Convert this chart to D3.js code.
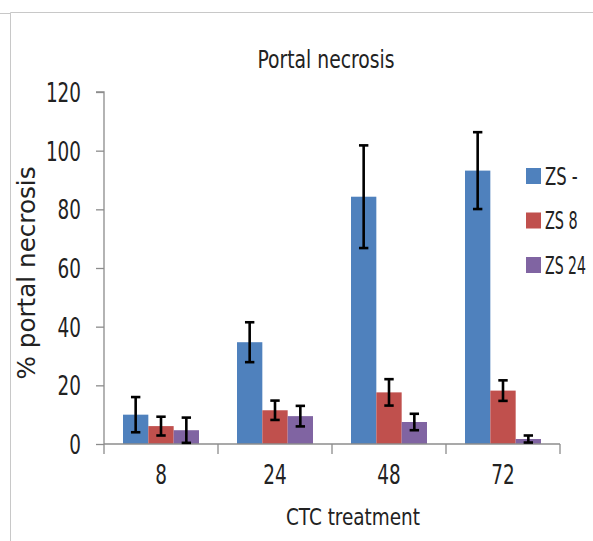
<!DOCTYPE html>
<html>
<head>
<meta charset="utf-8">
<script src="https://cdn.jsdelivr.net/npm/d3@7/dist/d3.min.js"></script>
<style>
  body { margin: 0; background: #fff; }
  text { font-family: "DejaVu Sans Condensed", "Liberation Sans Narrow", sans-serif; fill: #222; }
</style>
</head>
<body>
<script>
/* chart values */
var categories = ["8", "24", "48", "72"]
var series = ["ZS -", "ZS 8", "ZS 24"]
var zsMinus = [10, 34.7, 84.3, 93.2]
var zsMinusErr = [6, 6.8, 17.5, 13.1]
var zs8 = [6.1, 11.5, 17.6, 18.2]
var zs8Err = [3.2, 3.3, 4.5, 3.5]
var zs24 = [4.7, 9.5, 7.5, 1.7]
var zs24Err = [4.3, 3.5, 2.8, 1.2]
var yTicks = [0, 20, 40, 60, 80, 100, 120]
var colors = ["#4F81BD", "#C0504D", "#8064A2"]

var width = 593, height = 541
var margin = { left: 104, right: 33, top: 92, bottom: 97 }

/* squeeze text to the narrow look of the original font */
function narrow(sel, perChar) {
    sel.each(function() {
        var t = d3.select(this)
        var n = t.text().length
        t.attr("textLength", n * perChar).attr("lengthAdjust", "spacingAndGlyphs")
    })
}

var svg = d3.select("body").append("svg")
    .attr("width", width)
    .attr("height", height)

/* outer frame */
svg.append("line").attr("x1", 0).attr("x2", 10).attr("y1", 13.5).attr("y2", 13.5)
    .attr("stroke", "#c8c8c8").attr("stroke-width", 1)
svg.append("path").attr("d", "M593,12.5H10.5V541")
    .attr("fill", "none").attr("stroke", "#c8c8c8").attr("stroke-width", 1)

var x = d3.scaleBand()
    .domain(categories)
    .range([margin.left, width - margin.right])

var inner = d3.scaleBand()
    .domain(series)
    .range([x.bandwidth() / 6, x.bandwidth() * 5 / 6])

var y = d3.scaleLinear()
    .domain([0, 120])
    .range([height - margin.bottom, margin.top])

var values = [zsMinus, zs8, zs24]
var errors = [zsMinusErr, zs8Err, zs24Err]

var rows = []
series.forEach(function(s, si) {
    categories.forEach(function(c, ci) {
        rows.push({ s: s, si: si, c: c, v: values[si][ci], e: errors[si][ci] })
    })
})

/* bars */
svg.selectAll("rect.bar")
    .data(rows)
    .enter()
    .append("rect")
    .attr("class", "bar")
    .attr("x", function(d) { return x(d.c) + inner(d.s) })
    .attr("y", function(d) { return y(d.v) })
    .attr("width", inner.bandwidth())
    .attr("height", function(d) { return y(0) - y(d.v) })
    .attr("fill", function(d) { return colors[d.si] })

/* axes */
var yAxis = d3.axisLeft(y).tickValues(yTicks).tickSize(8).tickPadding(15)
var gy = svg.append("g")
    .attr("transform", "translate(" + margin.left + ",0)")
    .call(yAxis)
gy.selectAll("path, line").attr("stroke", "#8c8c8c").attr("stroke-width", 1.3)
gy.select(".domain").attr("d", "M-8," + y(120) + "H0V" + y(0))
gy.selectAll("text").attr("font-size", "26px").attr("font-family", null).attr("dy", "0.36em")
    .call(narrow, 11.7)

var xAxis = d3.axisBottom(x).tickSize(0).tickPadding(22)
var gx = svg.append("g")
    .attr("transform", "translate(0," + y(0) + ")")
    .call(xAxis)
gx.select(".domain").attr("stroke", "#8c8c8c").attr("stroke-width", 1.3)
    .attr("d", "M" + margin.left + ",0H" + (width - margin.right))
gx.selectAll("text").attr("font-size", "26px").attr("font-family", null)
    .call(narrow, 11.7)

/* category separators on x axis */
var bounds = categories.map(function(c) { return x(c) }).concat([x.range()[1]])
gx.selectAll("line.sep")
    .data(bounds)
    .enter()
    .append("line")
    .attr("class", "sep")
    .attr("x1", function(d) { return d })
    .attr("x2", function(d) { return d })
    .attr("y1", 0)
    .attr("y2", 10)
    .attr("stroke", "#8c8c8c")
    .attr("stroke-width", 1.3)

/* error bars */
var capW = 4.7
var eb = svg.selectAll("g.err")
    .data(rows)
    .enter()
    .append("g")
    .attr("class", "err")
    .attr("stroke", "#000")
    .attr("stroke-width", 2.6)
eb.append("line")
    .attr("x1", function(d) { return x(d.c) + inner(d.s) + inner.bandwidth() / 2 })
    .attr("x2", function(d) { return x(d.c) + inner(d.s) + inner.bandwidth() / 2 })
    .attr("y1", function(d) { return y(d.v + d.e) })
    .attr("y2", function(d) { return y(Math.max(0, d.v - d.e)) })
eb.append("line")
    .attr("x1", function(d) { return x(d.c) + inner(d.s) + inner.bandwidth() / 2 - capW })
    .attr("x2", function(d) { return x(d.c) + inner(d.s) + inner.bandwidth() / 2 + capW })
    .attr("y1", function(d) { return y(d.v + d.e) })
    .attr("y2", function(d) { return y(d.v + d.e) })
eb.append("line")
    .attr("x1", function(d) { return x(d.c) + inner(d.s) + inner.bandwidth() / 2 - capW })
    .attr("x2", function(d) { return x(d.c) + inner(d.s) + inner.bandwidth() / 2 + capW })
    .attr("y1", function(d) { return y(Math.max(0, d.v - d.e)) })
    .attr("y2", function(d) { return y(Math.max(0, d.v - d.e)) })

/* titles */
svg.append("text")
    .attr("x", 326)
    .attr("y", 68)
    .attr("text-anchor", "middle")
    .attr("font-size", "25px")
    .attr("textLength", 137)
    .attr("lengthAdjust", "spacingAndGlyphs")
    .text("Portal necrosis")

svg.append("text")
    .attr("x", 353)
    .attr("y", 525)
    .attr("text-anchor", "middle")
    .attr("font-size", "23px")
    .attr("textLength", 134)
    .attr("lengthAdjust", "spacingAndGlyphs")
    .text("CTC treatment")

svg.append("text")
    .attr("transform", "translate(35,273) rotate(-90)")
    .attr("text-anchor", "middle")
    .attr("font-size", "25px")
    .attr("textLength", 213)
    .attr("lengthAdjust", "spacingAndGlyphs")
    .text("% portal necrosis")

/* legend */
var lg = svg.selectAll("g.legend")
    .data(series)
    .enter()
    .append("g")
    .attr("class", "legend")
    .attr("transform", function(d, i) { return "translate(526," + (168 + i * 44.5) + ")" })
lg.append("rect")
    .attr("width", 15)
    .attr("height", 16)
    .attr("fill", function(d, i) { return colors[i] })
/* legend labels squeezed with a scale so their box stays inside the page */
lg.append("text")
    .attr("y", 8)
    .attr("dy", "0.36em")
    .attr("font-size", "24px")
    .text(function(d) { return d })
    .attr("transform", function(d) {
        var natural = this.getComputedTextLength()
        var s = (d.length * 8.2) / natural
        return "translate(19,0) scale(" + s + ",1)"
    })
</script>
</body>
</html>
